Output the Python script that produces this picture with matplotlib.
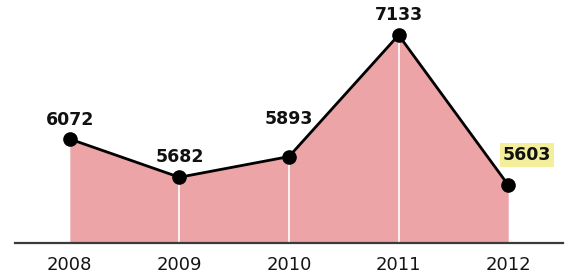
import numpy as np
import matplotlib
matplotlib.use('Agg')
import matplotlib.pyplot as plt

years = [2008, 2009, 2010, 2011, 2012]
values = [6072, 5682, 5893, 7133, 5603]
tick_labels = ['2008', '2009', '2010', '2011', '2012']

# label offsets in pixels (x, y) from the point
offsets = [(0, 19), (0, 20), (0, 38), (0, 20), (19, 30)]

fig = plt.figure(figsize=(5.68, 2.73), dpi=100)
ax = fig.add_axes([15 / 568, 30 / 273, 548 / 568, 243 / 273])

y0 = 5011
ax.fill_between(years, values, y0, color='#eca4a7', lw=0, zorder=1)
ax.vlines(years[1:-1], y0, values[1:-1], color='white', lw=1.2, zorder=2)
ax.plot(years, values, color='black', lw=2.0, marker='o', markersize=9.5, zorder=3)

for i, (x, v) in enumerate(zip(years, values)):
    bbox = None
    if i == len(years) - 1:
        bbox = dict(boxstyle='square,pad=0.15', fc='#f3ef9c', ec='none')
    ax.annotate(str(v), (x, v), xytext=offsets[i], textcoords='offset pixels',
                ha='center', va='center', fontsize=12.5, fontweight='bold',
                color='#111111', bbox=bbox, zorder=4)

ax.set_xlim(2007.5, 2012.5)
ax.set_ylim(y0, 7491)
ax.set_xticks(years)
ax.set_xticklabels(tick_labels, fontsize=13, color='#151515')
ax.set_yticks([])
ax.tick_params(axis='x', length=0, pad=9)
for s in ['top', 'left', 'right']:
    ax.spines[s].set_visible(False)
ax.spines['bottom'].set_color('#3a3a3a')
ax.spines['bottom'].set_linewidth(1.6)
ax.spines['bottom'].set_zorder(5)

fig.savefig('out.png', dpi=100)
